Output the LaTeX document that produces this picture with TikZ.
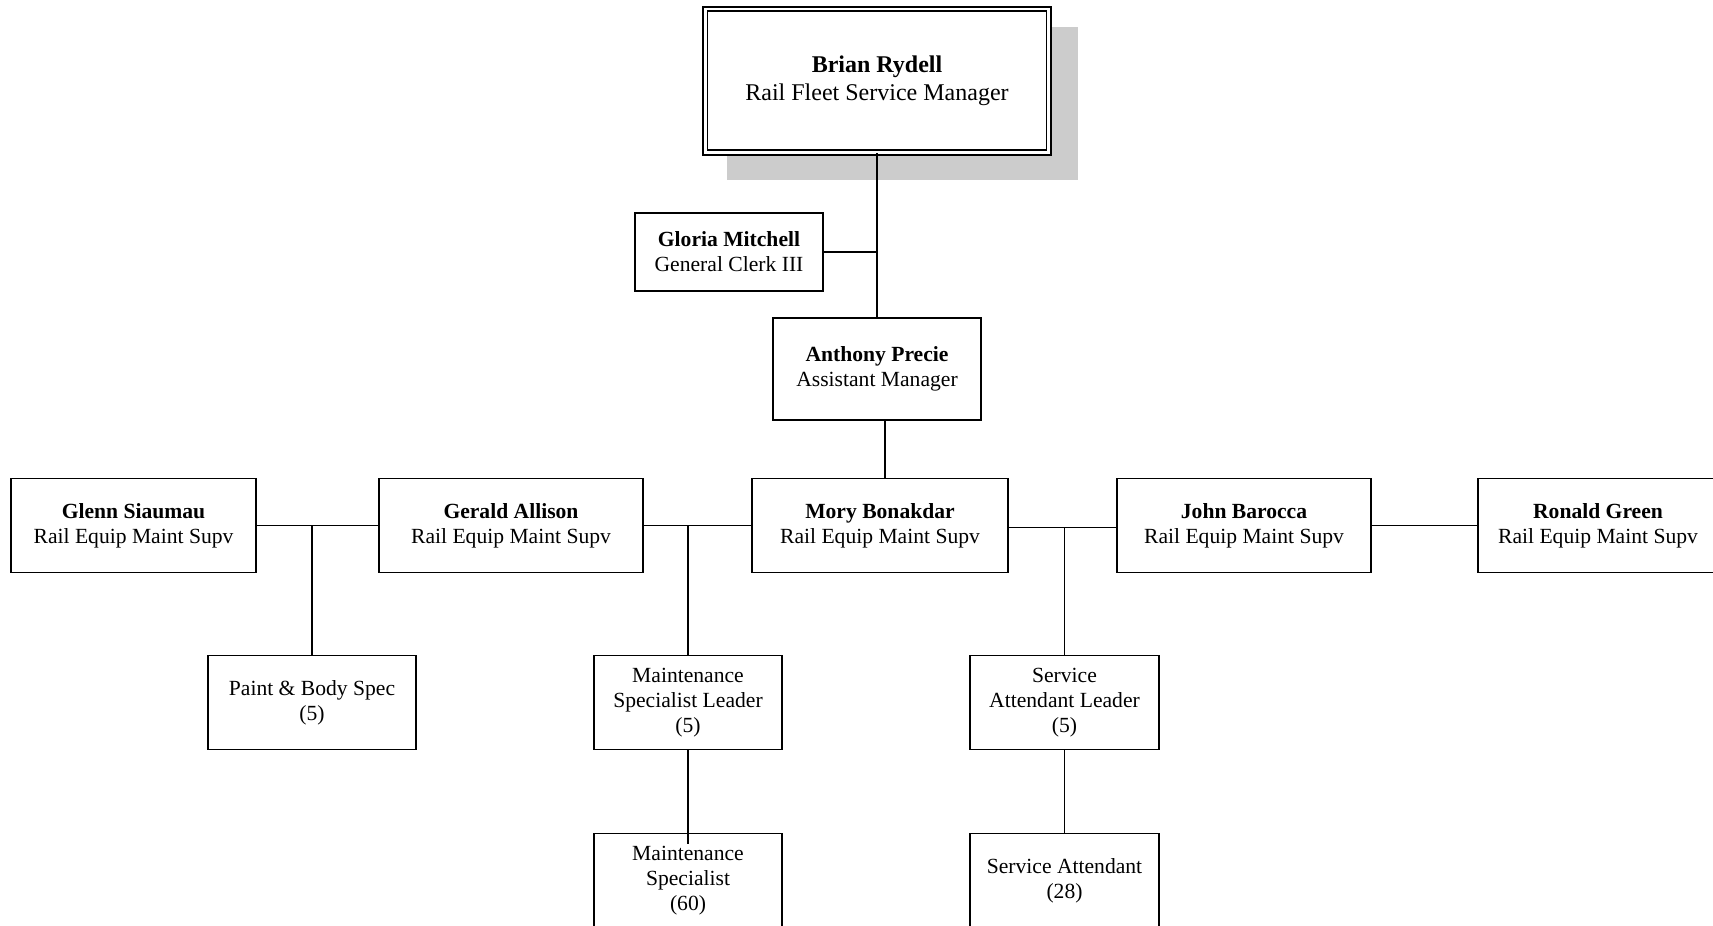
\documentclass[tikz,border=0pt]{standalone}
\usepackage{fontspec}
\setmainfont{Liberation Serif}
\definecolor{shadowgray}{RGB}{204,204,204}
\begin{document}
\begin{tikzpicture}[x=0.5pt,y=-0.5pt,
  post/.style={draw, line width=0.9pt, inner sep=0pt, align=center, minimum height=47pt, font=\fontsize{10.8}{12.5}\selectfont},
  headpost/.style={draw, line width=0.9pt, double, double distance=1.3pt, fill=white, inner sep=0pt, align=center, font=\fontsize{12}{14.2}\selectfont},
  link/.style={line width=0.9pt}]
\useasboundingbox (0,0) rectangle (1713,926);

\fill[shadowgray] (726.5,27) rectangle (1078,180);
\node[headpost, minimum width=171.75pt, minimum height=71.75pt] (br) at (877,80.75) {\textbf{Brian Rydell}\\Rail Fleet Service Manager};

\node[post, minimum width=94pt, minimum height=39pt] (gm) at (729,252) {\textbf{Gloria Mitchell}\\General Clerk III};
\node[post, minimum width=104pt, minimum height=51pt] (ap) at (877,369) {\textbf{Anthony Precie}\\Assistant Manager};

\node[post, minimum width=122.5pt] (gs) at (133.5,525.5) {\textbf{Glenn Siaumau}\\Rail Equip Maint Supv};
\node[post, minimum width=132.25pt] (ga) at (511,525.5) {\textbf{Gerald Allison}\\Rail Equip Maint Supv};
\node[post, minimum width=128.25pt] (mb) at (880,525.5) {\textbf{Mory Bonakdar}\\Rail Equip Maint Supv};
\node[post, minimum width=127.25pt] (jb) at (1244,525.5) {\textbf{John Barocca}\\Rail Equip Maint Supv};
\node[post, minimum width=120pt] (rg) at (1598,525.5) {\textbf{Ronald Green}\\Rail Equip Maint Supv};

\node[post, minimum width=103.75pt] (pb) at (312,702.5) {Paint \& Body Spec\\(5)};
\node[post, minimum width=94pt] (msl) at (688,702.5) {Maintenance\\Specialist Leader\\(5)};
\node[post, minimum width=94.5pt] (sal) at (1064.5,702.5) {Service\\Attendant Leader\\(5)};

\node[post, minimum width=94pt] (ms) at (688,880.5) {Maintenance\\Specialist\\(60)};
\node[post, minimum width=94.5pt] (sa) at (1064.5,880.5) {Service Attendant\\(28)};

\draw[link] (br.south) -- (ap.north);
\draw[link] (gm.east) -- (gm.east -| br.south);
\draw[link] ([xshift=4pt]ap.south) -- ([xshift=4pt]ap.south |- mb.north);
\draw[link] (gs.east) -- (ga.west);
\draw[link] (gs.east -| pb.north) -- (pb.north);
\draw[link] (ga.east) -- (mb.west);
\draw[link] (ga.east -| msl.north) -- (msl.north);
\draw[link] ([yshift=-1pt]mb.east) -- ([yshift=-1pt]jb.west);
\draw[link] ([yshift=-1pt]mb.east -| sal.north) -- (sal.north);
\draw[link] (jb.east) -- (rg.west);
\draw[link] (msl.south) -- ([yshift=-5.5pt]ms.north);
\draw[link] (sal.south) -- (sa.north);
\end{tikzpicture}
\end{document}
